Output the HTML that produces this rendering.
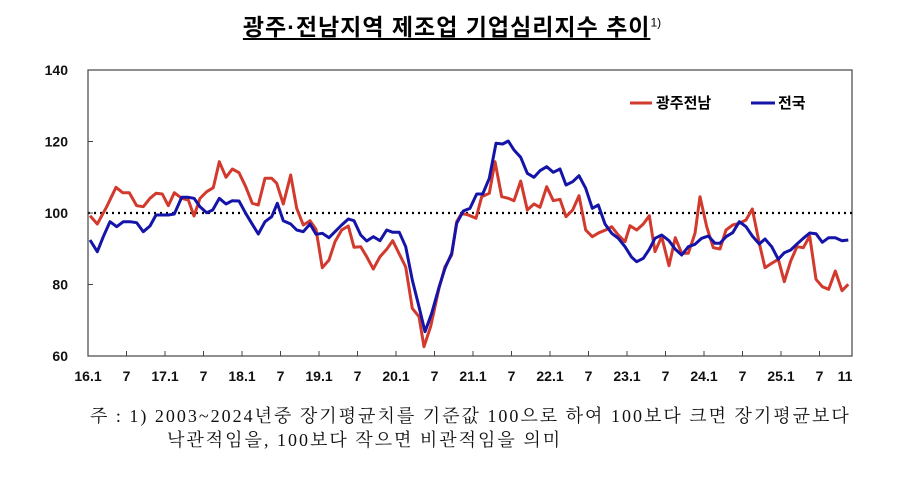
<!DOCTYPE html>
<html><head><meta charset="utf-8"><style>
body{margin:0;background:#fff;width:904px;height:485px;overflow:hidden;font-family:"Liberation Sans","Noto Sans CJK KR",sans-serif}
.t{position:absolute;left:0;width:904px;top:8px;text-align:center;font-size:23px;font-weight:bold;letter-spacing:1px}
.t span{text-decoration:underline;text-underline-offset:3px}
.f{position:absolute;font-family:"Liberation Serif","Noto Serif CJK SC","Noto Sans CJK KR",serif;font-size:18px;letter-spacing:2px;color:#111;white-space:nowrap}
</style></head><body>
<div class="t"><span>광주·전남지역 제조업 기업심리지수 추이</span><sup style="font-size:12px;font-weight:normal;letter-spacing:0">1)</sup></div>
<svg id="s" width="904" height="485" style="position:absolute;left:0;top:0">
<rect x="88" y="70" width="764" height="286" fill="none" stroke="#444" stroke-width="1.2"/>
<line x1="88" y1="213" x2="852" y2="213" stroke="#000" stroke-width="2.2" stroke-dasharray="2,4"/>
<g id="ax" font-family="Liberation Sans,sans-serif" font-weight="bold" font-size="14" fill="#111"></g>
<polyline id="r" fill="none" stroke="#d23a2e" stroke-width="3" stroke-linejoin="round"/>
<polyline id="b" fill="none" stroke="#1414a8" stroke-width="3" stroke-linejoin="round"/>
<line x1="630" y1="103" x2="652" y2="103" stroke="#d23a2e" stroke-width="3"/>
<text x="656" y="108" font-size="15" font-weight="bold" font-family="Liberation Sans,Noto Sans CJK KR,sans-serif">광주전남</text>
<line x1="751" y1="103" x2="775" y2="103" stroke="#1414a8" stroke-width="3"/>
<text x="778" y="108" font-size="15" font-weight="bold" font-family="Liberation Sans,Noto Sans CJK KR,sans-serif">전국</text>
</svg>
<div class="f" style="left:90px;top:402px">주 : 1) 2003~2024년중 장기평균치를 기준값 100으로 하여 100보다 크면 장기평균보다</div>
<div class="f" style="left:167px;top:426px">낙관적임을, 100보다 작으면 비관적임을 의미</div>
<script>
var ax=document.getElementById('ax'),h='';
[140,120,100,80,60].forEach(function(v){var y=70+(140-v)*3.575;h+='<text x="68" y="'+(y+5)+'" text-anchor="end">'+v+'</text><line x1="88" x2="93" y1="'+y+'" y2="'+y+'" stroke="#444"/>';});
var lb=['16.1','7','17.1','7','18.1','7','19.1','7','20.1','7','21.1','7','22.1','7','23.1','7','24.1','7','25.1','7'];
for(var i=0;i<lb.length;i++){var x=88+i*38.5;h+='<line x1="'+x+'" x2="'+x+'" y1="356" y2="351" stroke="#444"/><text x="'+x+'" y="381" text-anchor="middle">'+lb[i]+'</text>';}
h+='<text x="845" y="381" text-anchor="middle">11</text>';
ax.innerHTML=h;
function pts(L,R){var o=[];L.forEach(function(p){o.push((p[0]/3).toFixed(1)+','+(50+p[1]/3).toFixed(1));});R.forEach(function(p){o.push((440+p[0]/3).toFixed(1)+','+(50+p[1]/3).toFixed(1));});return o.join(' ');}
var rL=[[270,497],[292,522],[320,470],[348,412],[368,428],[388,428],[410,467],[430,470],[450,445],[468,430],[487,432],[505,467],[523,428],[545,445],[565,450],[582,498],[600,445],[620,425],[640,413],[658,335],[678,382],[697,357],[717,368],[737,410],[757,460],[775,465],[795,385],[815,385],[830,400],[850,462],[872,375],[890,475],[910,525],[930,512],[948,538],[967,653],[987,630],[1005,575],[1025,540],[1045,528],[1062,592],[1082,590],[1100,620],[1120,657],[1140,620],[1160,598],[1178,572],[1198,612],[1217,651],[1237,775],[1257,800],[1272,890],[1292,829],[1317,715]];
var rR=[[15,650],[35,615],[50,515],[65,490],[85,495],[108,505],[125,440],[148,430],[165,335],[185,440],[205,445],[222,452],[242,393],[262,480],[282,462],[300,472],[320,410],[340,452],[360,448],[378,500],[398,480],[417,437],[437,540],[457,560],[477,548],[497,540],[515,530],[535,555],[555,575],[570,527],[590,540],[610,522],[628,497],[645,605],[665,560],[687,647],[706,563],[725,610],[745,610],[765,550],[780,440],[800,530],[820,593],[840,597],[858,540],[878,525],[898,520],[918,510],[937,477],[958,580],[975,653],[995,640],[1015,628],[1033,695],[1052,633],[1071,590],[1090,593],[1109,558],[1128,688],[1147,710],[1166,718],[1186,663],[1206,722],[1225,703]];
var bL=[[270,570],[292,605],[310,560],[330,515],[350,530],[370,515],[390,515],[410,518],[430,545],[450,528],[468,495],[487,495],[505,495],[523,492],[545,442],[565,442],[582,445],[600,470],[620,488],[638,480],[658,445],[678,462],[697,452],[717,453],[737,490],[755,520],[775,552],[795,515],[815,500],[832,460],[850,512],[872,522],[890,540],[910,545],[930,522],[948,553],[967,550],[987,563],[1005,545],[1025,525],[1045,507],[1062,512],[1082,555],[1100,573],[1120,560],[1140,572],[1160,540],[1178,547],[1198,547],[1217,590],[1237,690],[1257,770],[1275,845],[1295,790],[1317,712]];
var bR=[[15,655],[35,610],[50,520],[70,483],[90,475],[110,432],[128,432],[148,385],[168,280],[188,282],[205,273],[222,300],[242,322],[262,370],[282,382],[300,362],[320,350],[340,367],[360,357],[378,405],[398,395],[417,377],[437,415],[457,475],[475,465],[495,522],[515,550],[535,565],[555,590],[575,622],[590,635],[610,625],[628,598],[645,565],[665,555],[687,572],[706,598],[725,615],[745,590],[765,583],[785,565],[805,558],[825,580],[840,580],[858,560],[878,548],[898,515],[918,530],[937,558],[958,582],[975,567],[995,590],[1015,628],[1033,608],[1052,600],[1071,582],[1090,565],[1109,549],[1128,551],[1147,577],[1166,563],[1186,563],[1206,572],[1225,570]];
document.getElementById('r').setAttribute('points',pts(rL,rR));
document.getElementById('b').setAttribute('points',pts(bL,bR));
</script>
</body></html>
